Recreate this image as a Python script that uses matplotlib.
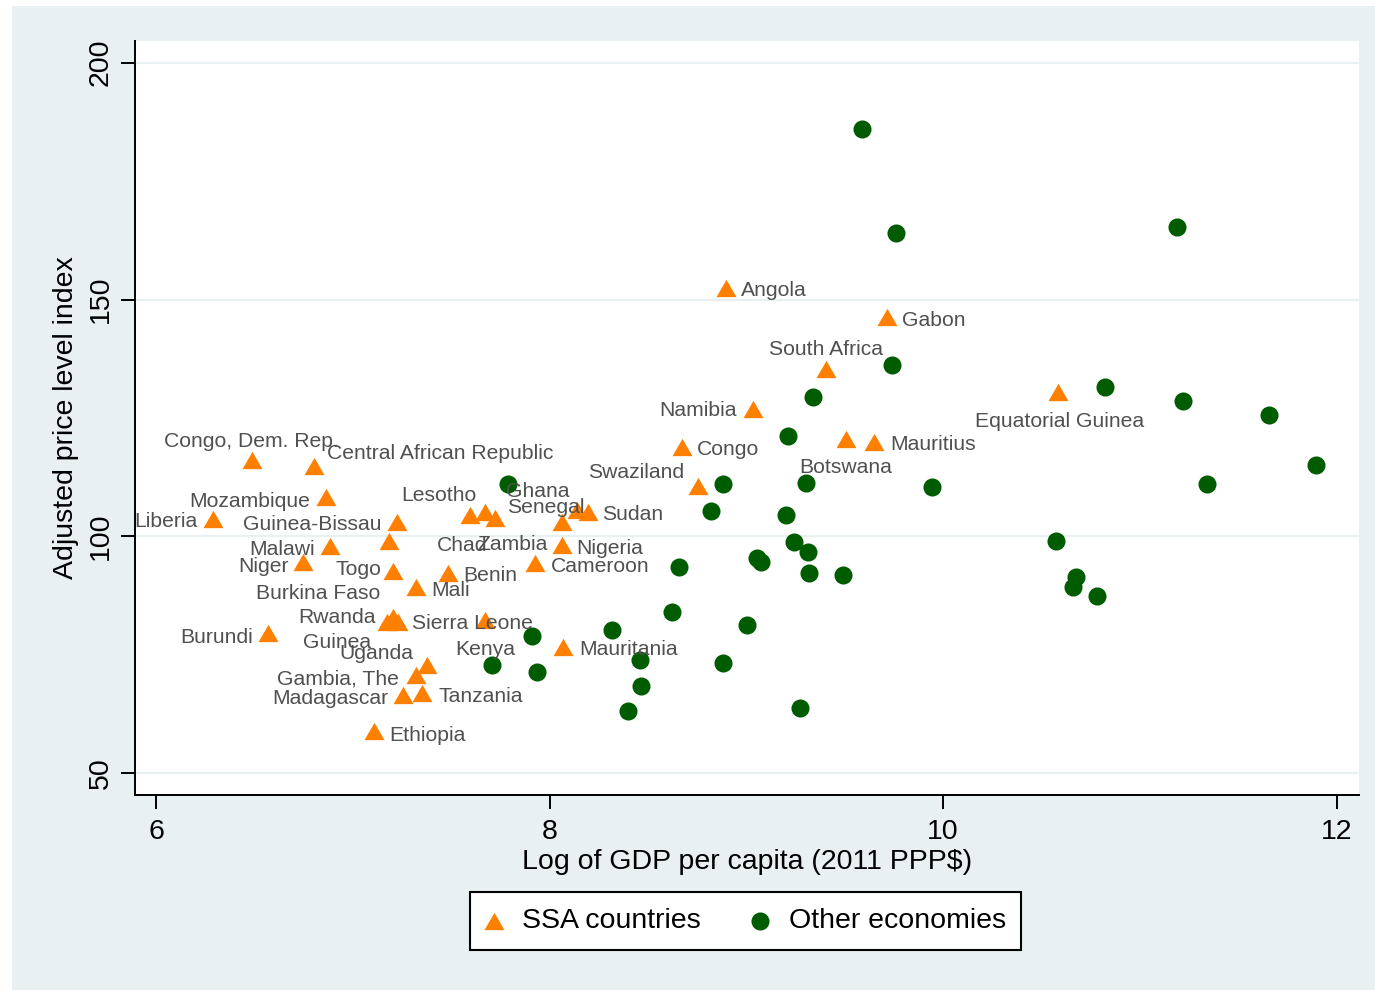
import matplotlib
matplotlib.use("Agg")
import matplotlib.pyplot as plt
from matplotlib.patches import Rectangle

plt.rcParams['font.family'] = ['Liberation Sans', 'DejaVu Sans']

# Sub-Saharan African countries
ssa_countries = [
    "Angola", "Gabon", "South Africa", "Namibia", "Equatorial Guinea", "Congo",
    "Mauritius", "Botswana", "Swaziland", "Congo, Dem. Rep.",
    "Central African Republic", "Mozambique", "Liberia", "Guinea-Bissau",
    "Burkina Faso", "Malawi", "Niger", "Togo", "Benin", "Mali", "Rwanda",
    "Guinea", "Sierra Leone", "Kenya", "Burundi", "Uganda", "Gambia, The",
    "Madagascar", "Tanzania", "Ethiopia", "Lesotho", "Chad", "Zambia",
    "Ghana", "Senegal", "Sudan", "Nigeria", "Cameroon", "Mauritania",
]
ssa_log_gdp = [
    8.897, 9.715, 9.405, 9.034, 10.584, 8.673,
    9.649, 9.506, 8.754, 6.488,
    6.803, 6.864, 6.290, 7.225,
    7.184, 6.884, 6.747, 7.204, 7.484, 7.321, 7.174,
    7.204, 7.230, 7.672, 6.569, 7.377, 7.321,
    7.255, 7.352, 7.108, 7.596, 7.672, 7.723,
    8.063, 8.139, 8.195, 8.063, 7.926, 8.068,
]
ssa_price_index = [
    152.4, 146.3, 135.3, 126.9, 130.5, 118.9,
    119.9, 120.6, 110.7, 116.1,
    114.9, 108.3, 103.7, 103.1,
    99.0, 98.0, 94.6, 92.7, 92.3, 89.3, 81.9,
    83.0, 81.9, 82.4, 79.6, 72.9, 70.8,
    66.5, 67.0, 58.9, 104.5, 105.2, 103.9,
    103.1, 105.6, 105.2, 98.2, 94.4, 76.7,
]

# Rest of the world
other_log_gdp = [
    9.588, 9.761, 11.189, 9.740, 10.823, 11.219, 11.656, 9.339, 9.212,
    11.895, 8.881, 9.303, 9.943, 11.341, 7.789, 8.820, 9.202, 9.242,
    9.313, 9.054, 9.074, 8.658, 9.318, 9.491, 10.574, 10.675, 10.660,
    10.782, 8.622, 9.003, 8.317, 7.911, 8.460, 8.881, 7.707, 7.936,
    8.465, 8.399, 9.273,
]
other_price_index = [
    186.0, 164.1, 165.3, 136.2, 131.6, 128.6, 125.6, 129.4, 121.2,
    115.1, 111.1, 111.3, 110.4, 111.1, 111.1, 105.4, 104.5, 98.8,
    96.7, 95.5, 94.6, 93.6, 92.3, 91.9, 99.0, 91.4, 89.3,
    87.4, 84.1, 81.3, 80.3, 79.0, 73.9, 73.3, 72.9, 71.4,
    68.4, 63.2, 63.8,
]

x_ticks = [6, 8, 10, 12]
y_ticks = [50, 100, 150, 200]
x_title = "Log of GDP per capita (2011 PPP$)"
y_title = "Adjusted price level index"
legend_labels = ["SSA countries", "Other economies"]

# Marker-label placement: offset in pixels (right, up) and horizontal anchor
label_layout = {
    "Angola": (15, -2, "left"), "Gabon": (15, -3, "left"),
    "Congo": (15, -3, "left"), "Mauritius": (16, -2, "left"),
    "Central African Republic": (13, 12, "left"), "Sudan": (14, -3, "left"),
    "Nigeria": (14, -4, "left"), "Benin": (15, -3, "left"),
    "Cameroon": (16, -4, "left"), "Mali": (15, -3, "left"),
    "Sierra Leone": (14, -1, "left"), "Mauritania": (16, -3, "left"),
    "Tanzania": (16, -4, "left"), "Ethiopia": (15, -4, "left"),
    "Zambia": (-18, -27, "left"),
    "Namibia": (-16, -2, "right"), "Swaziland": (-14, 13, "right"),
    "Mozambique": (-16, -4, "right"), "Liberia": (-16, -3, "right"),
    "Guinea-Bissau": (-16, -3, "right"), "Malawi": (-15, -4, "right"),
    "Niger": (-14, -4, "right"), "Togo": (-12, 2, "right"),
    "Burundi": (-15, -4, "right"), "Gambia, The": (-17, -4, "right"),
    "Madagascar": (-15, -3, "right"), "Rwanda": (-11, 5, "right"),
    "Guinea": (-22, -26, "right"), "Burkina Faso": (-9, -52, "right"),
    "Lesotho": (6, 20, "right"), "Chad": (2, -34, "right"),
    "Ghana": (8, 30, "right"), "Senegal": (8, 2, "right"),
    "Uganda": (-14, 11, "right"),
    "South Africa": (0, 20, "center"), "Equatorial Guinea": (1, -30, "center"),
    "Botswana": (0, -29, "center"), "Congo, Dem. Rep.": (-1, 19, "center"),
    "Kenya": (0, -30, "center"),
}

ORANGE = "#ff7f00"
GREEN = "#005c00"
PANEL = "#e8f0f2"
LABEL_GREY = "#505050"
FS = 20.5

tri = [(-1.0, -0.866), (1.0, -0.866), (0.0, 0.866)]

fig = plt.figure(figsize=(13.75, 9.9), dpi=100, facecolor="white")
fig.patches.append(Rectangle((12 / 1375, 0), 1 - 12 / 1375, 984 / 990,
                             transform=fig.transFigure, facecolor=PANEL,
                             edgecolor="none", zorder=-10))

ax = fig.add_axes([134.7 / 1375, 1 - 795 / 990, (1359 - 134.7) / 1375,
                   (795 - 40.7) / 990])
ax.set_facecolor("white")
ax.set_xlim(5.892, 12.113)
ax.set_ylim(45.42, 204.64)

for yv in y_ticks:
    ax.axhline(yv, color=PANEL, lw=1.6, zorder=0)

h_ssa = ax.scatter(ssa_log_gdp, ssa_price_index, marker=tri, s=14.4 ** 2,
                   color=ORANGE, linewidths=0, zorder=3)
h_oth = ax.scatter(other_log_gdp, other_price_index, marker="o", s=13 ** 2,
                   color=GREEN, linewidths=0, zorder=3)

for name, xv, yv in zip(ssa_countries, ssa_log_gdp, ssa_price_index):
    dx, dy, ha = label_layout[name]
    ax.annotate(name, (xv, yv), xytext=(dx, dy), textcoords="offset pixels",
                ha=ha, va="center", fontsize=15.2, color=LABEL_GREY, zorder=4)

for side in ("top", "right"):
    ax.spines[side].set_visible(False)
for side in ("left", "bottom"):
    ax.spines[side].set_linewidth(1.4)
    ax.spines[side].set_color("black")

ax.set_xticks(x_ticks)
ax.set_xticklabels([str(v) for v in x_ticks])
ax.set_yticks(y_ticks)
ax.set_yticklabels([str(v) for v in y_ticks], rotation=90, va="center")
ax.tick_params(axis="both", direction="out", length=10, width=1.4,
               labelsize=FS, colors="black")
ax.tick_params(axis="x", pad=7)
ax.tick_params(axis="y", pad=5)

fig.text(747 / 1375, 1 - 862 / 990, x_title, ha="center", va="center",
         fontsize=FS)
fig.text(66 / 1375, 1 - 418 / 990, y_title, ha="center", va="center",
         rotation=90, fontsize=FS)

leg = fig.legend([h_ssa, h_oth], legend_labels, loc="center",
                 bbox_to_anchor=(745.5 / 1375, 1 - 921 / 990), ncol=2,
                 fontsize=FS, frameon=True, fancybox=False, edgecolor="black",
                 framealpha=1, borderpad=0.55, handlelength=0.6,
                 handletextpad=0.69, columnspacing=1.8, borderaxespad=0)
leg.get_frame().set_linewidth(1.5)

fig.savefig("out.png", dpi=100, facecolor="white")
